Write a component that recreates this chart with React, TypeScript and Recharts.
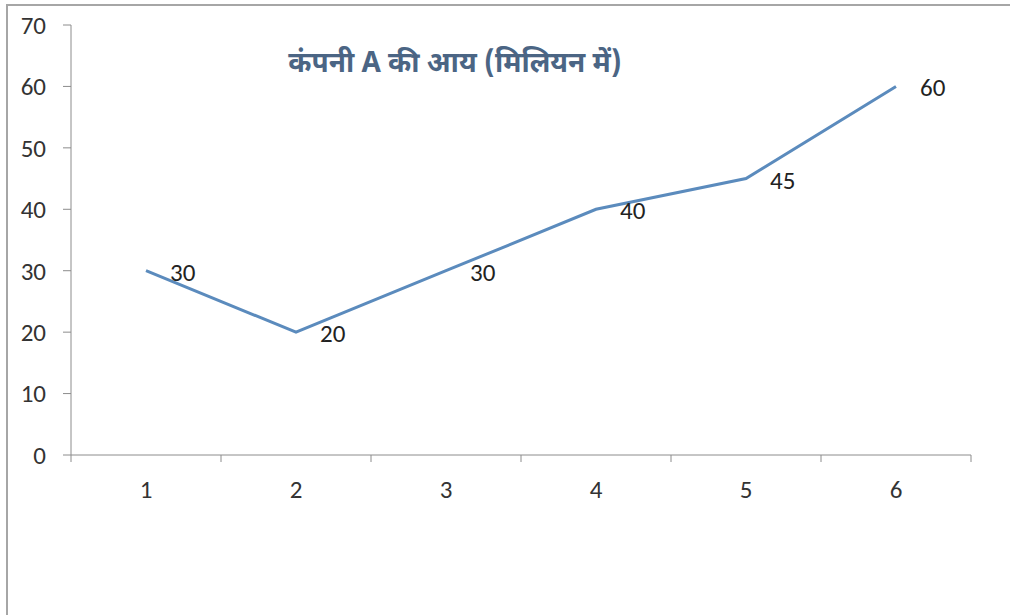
import React from "react";
import { LineChart, Line, XAxis, YAxis, LabelList } from "recharts";

const categories = [1, 2, 3, 4, 5, 6];
const revenue = [30, 20, 30, 40, 45, 60];
const yTicks = [0, 10, 20, 30, 40, 50, 60, 70];
const bandEdges = [0.5, 1.5, 2.5, 3.5, 4.5, 5.5, 6.5];
const title = "कंपनी A की आय (मिलियन में)";

const data = categories.map((c, i) => ({ cat: c, value: revenue[i] }));
const xTicks = [...bandEdges, ...categories].sort((a, b) => a - b);

const FONT = "Carlito, 'Open Sans', 'Noto Sans', sans-serif";
const AXIS = "#8c8c8c";

const renderLabel = (props: any) => {
  const { x, y, value } = props;
  return (
    <text x={x + 24} y={y + 10} fontSize={25} fill="#222" fontFamily={FONT}>
      {value}
    </text>
  );
};

const XTick = (props: any) => {
  const { x, y, payload } = props;
  const v = payload.value;
  if (Number.isInteger(v)) {
    return (
      <text x={x} y={y + 43} textAnchor="middle" fontSize={25} fill="#333" fontFamily={FONT}>
        {v}
      </text>
    );
  }
  return <line x1={x} x2={x} y1={y} y2={y + 7} stroke={AXIS} strokeWidth={1} />;
};

export default function App() {
  return (
    <div style={{ position: "absolute", left: 0, top: 0, width: 1010, height: 615, overflow: "hidden", background: "#fff" }}>
      <div
        style={{
          position: "absolute",
          left: 6,
          top: 4,
          width: 1100,
          height: 700,
          border: "2px solid #a6a6a6",
          boxSizing: "border-box",
        }}
      />
      <div style={{ position: "absolute", left: 0, top: 0 }}>
        <LineChart
          width={1010}
          height={615}
          data={data}
          margin={{ top: 25, right: 39, bottom: 120, left: 0 }}
        >
          <XAxis
            dataKey="cat"
            type="number"
            domain={[0.5, 6.5]}
            ticks={xTicks}
            interval={0}
            tickLine={false}
            tickSize={0}
            tickMargin={0}
            tick={<XTick />}
            stroke={AXIS}
            height={40}
            allowDataOverflow
          />
          <YAxis
            domain={[0, 70]}
            ticks={yTicks}
            width={71}
            tickSize={8}
            tickMargin={17}
            stroke={AXIS}
            tick={{ fontSize: 25, fill: "#333", fontFamily: FONT }}
          />
          <Line
            dataKey="value"
            stroke="#5b8bbd"
            strokeWidth={3}
            dot={false}
            isAnimationActive={false}
          >
            <LabelList dataKey="value" content={renderLabel} />
          </Line>
          <text
            x={455}
            y={72}
            textAnchor="middle"
            fontSize={28}
            fontWeight="bold"
            fill="#4b6584"
            fontFamily="'Noto Sans Devanagari', 'Noto Sans', sans-serif"
          >
            {title}
          </text>
        </LineChart>
      </div>
    </div>
  );
}
